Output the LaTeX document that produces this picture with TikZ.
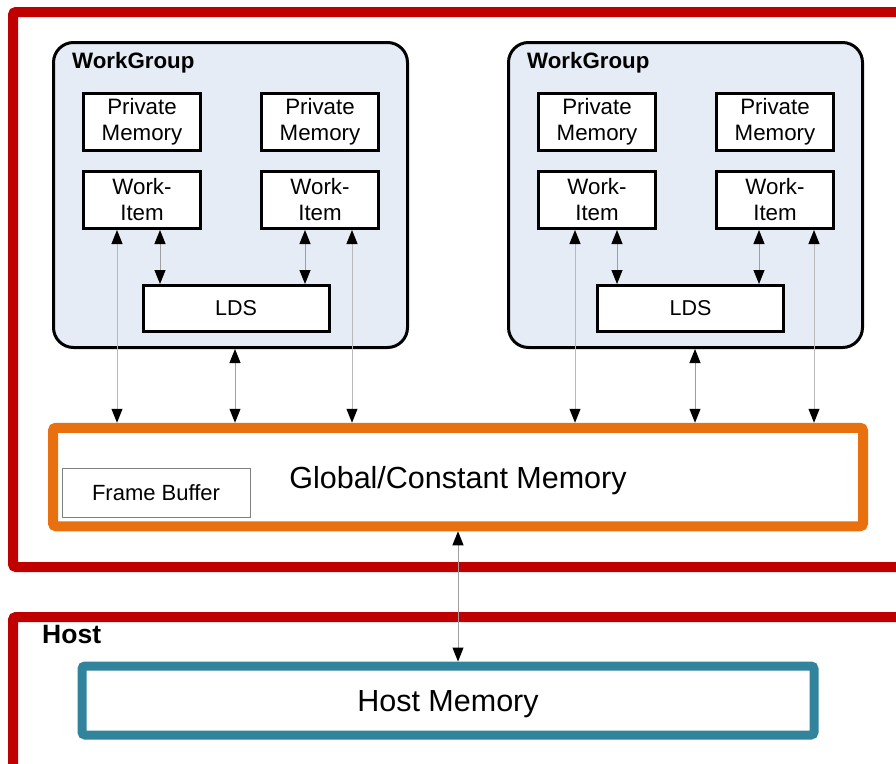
\documentclass[tikz,border=0pt]{standalone}
\usepackage{fontspec}
\setmainfont{Liberation Sans}
\usetikzlibrary{arrows.meta}

\definecolor{devRed}{HTML}{C00000}
\definecolor{globOrange}{HTML}{E8700F}
\definecolor{hostTeal}{HTML}{31849B}
\definecolor{wgFill}{HTML}{E6ECF6}

\tikzset{
  outerbox/.style={draw=devRed, line width=10pt, rounded corners=3pt},
  wgbox/.style={draw=black, fill=wgFill, line width=3pt, rounded corners=20pt},
  membox/.style={draw=black, fill=white, line width=3pt, inner sep=0pt,
    minimum width=117pt, minimum height=57pt, align=center,
    font=\fontsize{22.3}{26}\selectfont},
  ldsbox/.style={membox, minimum width=186pt, minimum height=46pt,
    font=\fontsize{21.5}{26}\selectfont},
  bigmem/.style={fill=white, inner sep=0pt, rounded corners=3pt, text depth=0pt,
    font=\fontsize{30.5}{36}\selectfont},
  biglabel/.style={anchor=base west, inner sep=0pt,
    font=\bfseries\fontsize{22.3}{26}\selectfont},
  link/.style={draw=gray!75, line width=1pt,
    {Triangle[length=14pt,width=11pt,color=black]}-{Triangle[length=14pt,width=11pt,color=black]}},
  longlink/.style={link, draw=gray!55}
}

\begin{document}
\begin{tikzpicture}[x=1pt,y=-1pt]
  \useasboundingbox (0,0) rectangle (896,763);

  % device and host frames
  \draw[outerbox] (930,12) -- (13,12) -- (13,567) -- (930,567);
  \draw[outerbox] (930,617) -- (13,617) -- (13,800);
  \node[biglabel, font=\bfseries\fontsize{26.5}{30}\selectfont] (hostlabel) at (42,643) {Host};

  % work groups
  \node[wgbox, minimum width=354pt, minimum height=305pt] (wgA) at (230.5,195) {};
  \node[wgbox, minimum width=354pt, minimum height=305pt] (wgB) at (685.5,195) {};
  \node[biglabel] (wgAlabel) at (72,68) {WorkGroup};
  \node[biglabel] (wgBlabel) at (527,68) {WorkGroup};

  \node[membox] (pmA) at (142,121.5) {Private\\Memory};
  \node[membox] (pmB) at (320,121.5) {Private\\Memory};
  \node[membox] (wiA) at (142,200) {Work-\\Item};
  \node[membox] (wiB) at (320,200) {Work-\\Item};
  \node[ldsbox] (ldsA) at (236,308.5) {LDS};

  \node[membox] (pmC) at (597,121.5) {Private\\Memory};
  \node[membox] (pmD) at (775,121.5) {Private\\Memory};
  \node[membox] (wiC) at (597,200) {Work-\\Item};
  \node[membox] (wiD) at (775,200) {Work-\\Item};
  \node[ldsbox] (ldsB) at (690.5,308.5) {LDS};

  % memories
  \node[bigmem, draw=globOrange, line width=10pt, minimum width=810pt,
    minimum height=98.5pt] (glob) at (458,477) {Global/Constant Memory};
  \node[draw=gray, line width=1pt, inner sep=0pt, minimum width=188pt,
    minimum height=49pt, font=\fontsize{22}{26}\selectfont] (fb) at (156,492.5) {Frame Buffer};
  \node[bigmem, draw=hostTeal, line width=9pt, minimum width=732pt,
    minimum height=69pt] (hostmem) at (448,700.5) {Host Memory};

  % connections, first group
  \draw[longlink] ([xshift=-25]wiA.south) -- ([xshift=-25]wiA.south |- glob.north);
  \draw[link] ([xshift=18]wiA.south) -- ([xshift=18]wiA.south |- ldsA.north);
  \draw[link] ([xshift=-15]wiB.south) -- ([xshift=-15]wiB.south |- ldsA.north);
  \draw[longlink] ([xshift=32]wiB.south) -- ([xshift=32]wiB.south |- glob.north);
  \draw[link] ([xshift=4.5]wgA.south) -- ([xshift=4.5]wgA.south |- glob.north);

  % connections, second group
  \draw[longlink] ([xshift=-22]wiC.south) -- ([xshift=-22]wiC.south |- glob.north);
  \draw[link] ([xshift=20]wiC.south) -- ([xshift=20]wiC.south |- ldsB.north);
  \draw[link] ([xshift=-16]wiD.south) -- ([xshift=-16]wiD.south |- ldsB.north);
  \draw[longlink] ([xshift=39]wiD.south) -- ([xshift=39]wiD.south |- glob.north);
  \draw[link] ([xshift=9.5]wgB.south) -- ([xshift=9.5]wgB.south |- glob.north);

  % global to host
  \draw[link] (glob.south) -- (glob.south |- hostmem.north);
\end{tikzpicture}
\end{document}
